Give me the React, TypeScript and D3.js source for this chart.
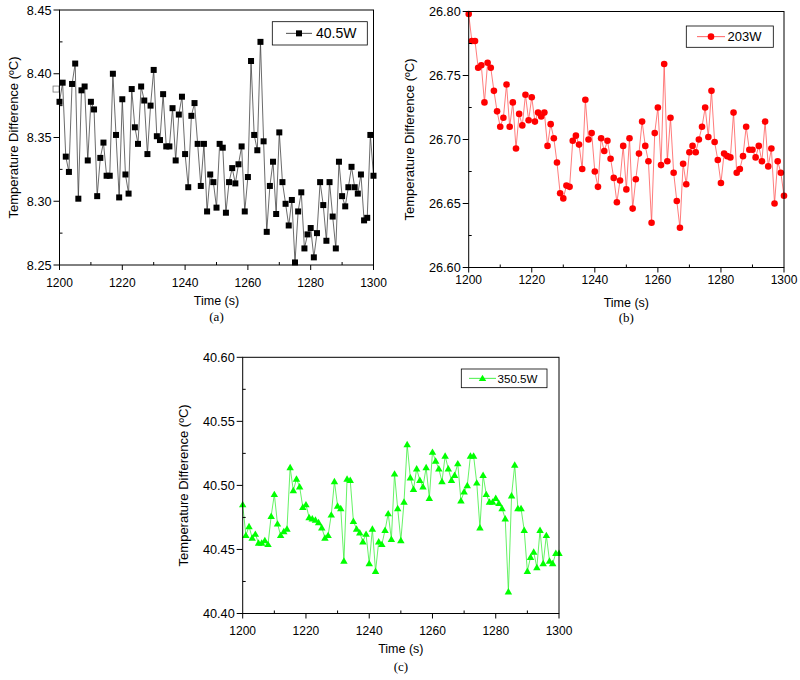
import React from "react";
import * as d3 from "d3";

// ---- data (one sample per second, starting at 1200 s) ----
const timeStart = 1200;
const timeStep = 1;

const seriesA = [
  8.378, 8.393, 8.335, 8.323, 8.392, 8.408, 8.302, 8.387, 8.390, 8.332,
  8.378, 8.372, 8.304, 8.334, 8.346, 8.320, 8.320, 8.400, 8.352, 8.303,
  8.380, 8.321, 8.306, 8.388, 8.358, 8.345, 8.390, 8.379, 8.337, 8.375,
  8.403, 8.351, 8.348, 8.384, 8.343, 8.343, 8.373, 8.332, 8.368, 8.382,
  8.337, 8.311, 8.367, 8.377, 8.345, 8.312, 8.345, 8.292, 8.321, 8.315,
  8.295, 8.345, 8.342, 8.291, 8.315, 8.326, 8.314, 8.329, 8.343, 8.292,
  8.319, 8.410, 8.352, 8.340, 8.425, 8.347, 8.276, 8.312, 8.331, 8.290,
  8.354, 8.315, 8.298, 8.281, 8.301, 8.252, 8.292, 8.307, 8.263, 8.274,
  8.279, 8.256, 8.275, 8.315, 8.297, 8.269, 8.315, 8.288, 8.263, 8.331,
  8.304, 8.296, 8.311, 8.327, 8.311, 8.306, 8.321, 8.285, 8.287, 8.352,
  8.320,
];

const seriesB = [
  26.798, 26.777, 26.777, 26.756, 26.758, 26.729, 26.760, 26.756, 26.738, 26.722,
  26.710, 26.717, 26.743, 26.710, 26.729, 26.693, 26.720, 26.711, 26.735, 26.715,
  26.733, 26.714, 26.721, 26.718, 26.721, 26.695, 26.712, 26.701, 26.682, 26.658,
  26.654, 26.664, 26.663, 26.699, 26.703, 26.696, 26.677, 26.731, 26.700, 26.705,
  26.675, 26.663, 26.701, 26.691, 26.699, 26.685, 26.670, 26.651, 26.668, 26.695,
  26.661, 26.701, 26.646, 26.669, 26.689, 26.714, 26.695, 26.683, 26.635, 26.705,
  26.725, 26.680, 26.759, 26.683, 26.717, 26.674, 26.652, 26.631, 26.681, 26.665,
  26.690, 26.695, 26.690, 26.700, 26.710, 26.725, 26.702, 26.738, 26.698, 26.684,
  26.666, 26.689, 26.687, 26.686, 26.721, 26.674, 26.677, 26.687, 26.710, 26.692,
  26.692, 26.686, 26.695, 26.683, 26.714, 26.679, 26.693, 26.650, 26.683, 26.674,
  26.656,
];

const seriesC = [
  40.485, 40.461, 40.468, 40.459, 40.462, 40.455, 40.455, 40.457, 40.454, 40.476,
  40.493, 40.470, 40.461, 40.464, 40.466, 40.514, 40.496, 40.505, 40.499, 40.483,
  40.485, 40.475, 40.474, 40.473, 40.471, 40.467, 40.459, 40.461, 40.477, 40.503,
  40.484, 40.482, 40.441, 40.505, 40.504, 40.472, 40.466, 40.463, 40.456, 40.462,
  40.439, 40.466, 40.433, 40.456, 40.454, 40.465, 40.478, 40.458, 40.509, 40.482,
  40.457, 40.487, 40.532, 40.506, 40.497, 40.513, 40.504, 40.499, 40.514, 40.490,
  40.526, 40.519, 40.513, 40.503, 40.523, 40.513, 40.504, 40.508, 40.517, 40.488,
  40.495, 40.500, 40.523, 40.523, 40.502, 40.467, 40.508, 40.493, 40.487, 40.487,
  40.490, 40.486, 40.482, 40.474, 40.417, 40.492, 40.516, 40.482, 40.482, 40.465,
  40.433, 40.444, 40.448, 40.436, 40.465, 40.439, 40.461, 40.441, 40.439, 40.447,
  40.447,
];

// stray hollow marker at the left edge of panel (a)
const strayA = [{ t: 1198.9, v: 8.388 }];

const xTicks = [1200, 1220, 1240, 1260, 1280, 1300];
const xMinorTicks = [1210, 1230, 1250, 1270, 1290];
const yTicksA = [8.25, 8.3, 8.35, 8.4, 8.45];
const yTicksB = [26.6, 26.65, 26.7, 26.75, 26.8];
const yTicksC = [40.4, 40.45, 40.5, 40.55, 40.6];

const legendA = "40.5W";
const legendB = "203W";
const legendC = "350.5W";
const yTitle = "Temperature Difference (\u00baC)";
const xTitle = "Time (s)";

const SANS = "'Liberation Sans', Arial, Helvetica, sans-serif";
const SERIF = "'Liberation Serif', 'Times New Roman', serif";

type MarkerKind = "square" | "circle" | "triangle";

function Marker({ kind, x, y, fill, hollow }: { kind: MarkerKind; x: number; y: number; fill: string; hollow?: boolean }) {
  const f = hollow ? "#fff" : fill;
  const s = hollow ? "#777" : "none";
  if (kind === "square") {
    return <rect x={x - 3} y={y - 3} width={6} height={6} fill={f} stroke={s} strokeWidth={hollow ? 0.8 : 0} />;
  }
  if (kind === "circle") {
    return <circle cx={x} cy={y} r={3.3} fill={f} />;
  }
  const sym = d3.symbol().type(d3.symbolTriangle).size(24)();
  return <path d={sym as string} transform={`translate(${x},${y + 0.6})`} fill={f} />;
}

type PanelProps = {
  values: number[];
  yDomain: [number, number];
  yTicks: number[];
  box: { l: number; r: number; t: number; b: number };
  lineColor: string;
  markerColor: string;
  marker: MarkerKind;
  yTitleX: number;
  tickBase: number;
  titleBase: number;
  capBase: number;
  caption: string;
  legend: { x: number; y: number; w: number; h: number; l1: number; l2: number; tx: number; fs: number; label: string };
  stray?: { t: number; v: number }[];
};

function Panel(p: PanelProps) {
  const { box } = p;
  const x = d3.scaleLinear().domain([1200, 1300]).range([box.l, box.r]);
  const y = d3.scaleLinear().domain(p.yDomain).range([box.b, box.t]);
  const pts = p.values.map((v, i) => ({ t: timeStart + i * timeStep, v }));
  const line = d3
    .line<{ t: number; v: number }>()
    .x((d) => x(d.t))
    .y((d) => y(d.v));
  const yMinor = p.yTicks.slice(0, -1).map((v, i) => (v + p.yTicks[i + 1]) / 2);
  const cy = (box.t + box.b) / 2;
  const cx = (box.l + box.r) / 2;
  const lg = p.legend;
  return (
    <g>
      <path d={line(pts) as string} fill="none" stroke={p.lineColor} strokeWidth={0.75} />
      {pts.map((d, i) => (
        <Marker key={i} kind={p.marker} x={x(d.t)} y={y(d.v)} fill={p.markerColor} />
      ))}
      {p.stray &&
        p.stray.map((d, i) => <Marker key={"s" + i} kind={p.marker} x={x(d.t)} y={y(d.v)} fill={p.markerColor} hollow />)}
      {/* frame */}
      <rect x={box.l} y={box.t} width={box.r - box.l} height={box.b - box.t} fill="none" stroke="#000" strokeWidth={1} />
      {/* x ticks */}
      {xTicks.map((t) => (
        <g key={"xt" + t}>
          <line x1={x(t)} x2={x(t)} y1={box.b} y2={box.b + 5} stroke="#000" strokeWidth={1} />
          <text x={x(t)} y={p.tickBase} fontSize={12} fontFamily={SANS} textAnchor="middle" fill="#000">
            {t}
          </text>
        </g>
      ))}
      {xMinorTicks.map((t) => (
        <line key={"xm" + t} x1={x(t)} x2={x(t)} y1={box.b} y2={box.b - 3} stroke="#000" strokeWidth={1} />
      ))}
      {/* y ticks */}
      {p.yTicks.map((v) => (
        <g key={"yt" + v}>
          <line x1={box.l - 6} x2={box.l} y1={y(v)} y2={y(v)} stroke="#000" strokeWidth={1} />
          <text x={box.l - 8} y={y(v) + 4.5} fontSize={12.7} fontFamily={SANS} textAnchor="end" fill="#000">
            {v.toFixed(2)}
          </text>
        </g>
      ))}
      {yMinor.map((v) => (
        <line key={"ym" + v} x1={box.l} x2={box.l + 3} y1={y(v)} y2={y(v)} stroke="#000" strokeWidth={1} />
      ))}
      {/* titles */}
      <text
        transform={`translate(${p.yTitleX},${cy}) rotate(-90)`}
        fontSize={13}
        fontFamily={SANS}
        textAnchor="middle"
        dominantBaseline="central"
        fill="#000"
      >
        {yTitle}
      </text>
      <text x={cx} y={p.titleBase} fontSize={12.5} fontFamily={SANS} textAnchor="middle" fill="#000">
        {xTitle}
      </text>
      <text x={cx} y={p.capBase} fontSize={13} fontFamily={SERIF} textAnchor="middle" fill="#000">
        {p.caption}
      </text>
      {/* legend */}
      <rect x={lg.x} y={lg.y} width={lg.w} height={lg.h} fill="#fff" stroke="#000" strokeWidth={0.8} />
      <line x1={lg.l1} x2={lg.l2} y1={lg.y + lg.h / 2} y2={lg.y + lg.h / 2} stroke={p.lineColor} strokeWidth={0.9} />
      <Marker kind={p.marker} x={(lg.l1 + lg.l2) / 2} y={lg.y + lg.h / 2} fill={p.markerColor} />
      <text x={lg.tx} y={lg.y + lg.h / 2} fontSize={lg.fs} fontFamily={SANS} dominantBaseline="central" fill="#000">
        {lg.label}
      </text>
    </g>
  );
}

export default function App() {
  return (
    <svg width={800} height={680} style={{ position: "absolute", left: 0, top: 0, background: "#fff" }}>
      <rect x={0} y={0} width={800} height={680} fill="#fff" />
      <Panel
        values={seriesA}
        yDomain={[8.25, 8.45]}
        yTicks={yTicksA}
        box={{ l: 59.5, r: 373.5, t: 10, b: 265 }}
        lineColor="#3a3a3a"
        markerColor="#000"
        marker="square"
        yTitleX={13}
        tickBase={286.5}
        titleBase={304.5}
        capBase={320.5}
        caption="(a)"
        legend={{ x: 272.3, y: 21.7, w: 95, h: 23.3, l1: 286, l2: 312, tx: 316, fs: 14, label: legendA }}
        stray={strayA}
      />
      <Panel
        values={seriesB}
        yDomain={[26.6, 26.8]}
        yTicks={yTicksB}
        box={{ l: 468.7, r: 784, t: 11.5, b: 267.5 }}
        lineColor="#ff5050"
        markerColor="#ff0000"
        marker="circle"
        yTitleX={409}
        tickBase={283.5}
        titleBase={306.8}
        capBase={322}
        caption="(b)"
        legend={{ x: 686.3, y: 26, w: 87, h: 21.3, l1: 697, l2: 725, tx: 727.5, fs: 13, label: legendB }}
      />
      <Panel
        values={seriesC}
        yDomain={[40.4, 40.6]}
        yTicks={yTicksC}
        box={{ l: 242.7, r: 559, t: 357.3, b: 613.5 }}
        lineColor="#33ee33"
        markerColor="#00ff00"
        marker="triangle"
        yTitleX={183.5}
        tickBase={635}
        titleBase={652.5}
        capBase={671}
        caption="(c)"
        legend={{ x: 461.3, y: 369, w: 85.7, h: 18.7, l1: 469, l2: 496, tx: 497.5, fs: 11.6, label: legendC }}
      />
    </svg>
  );
}
